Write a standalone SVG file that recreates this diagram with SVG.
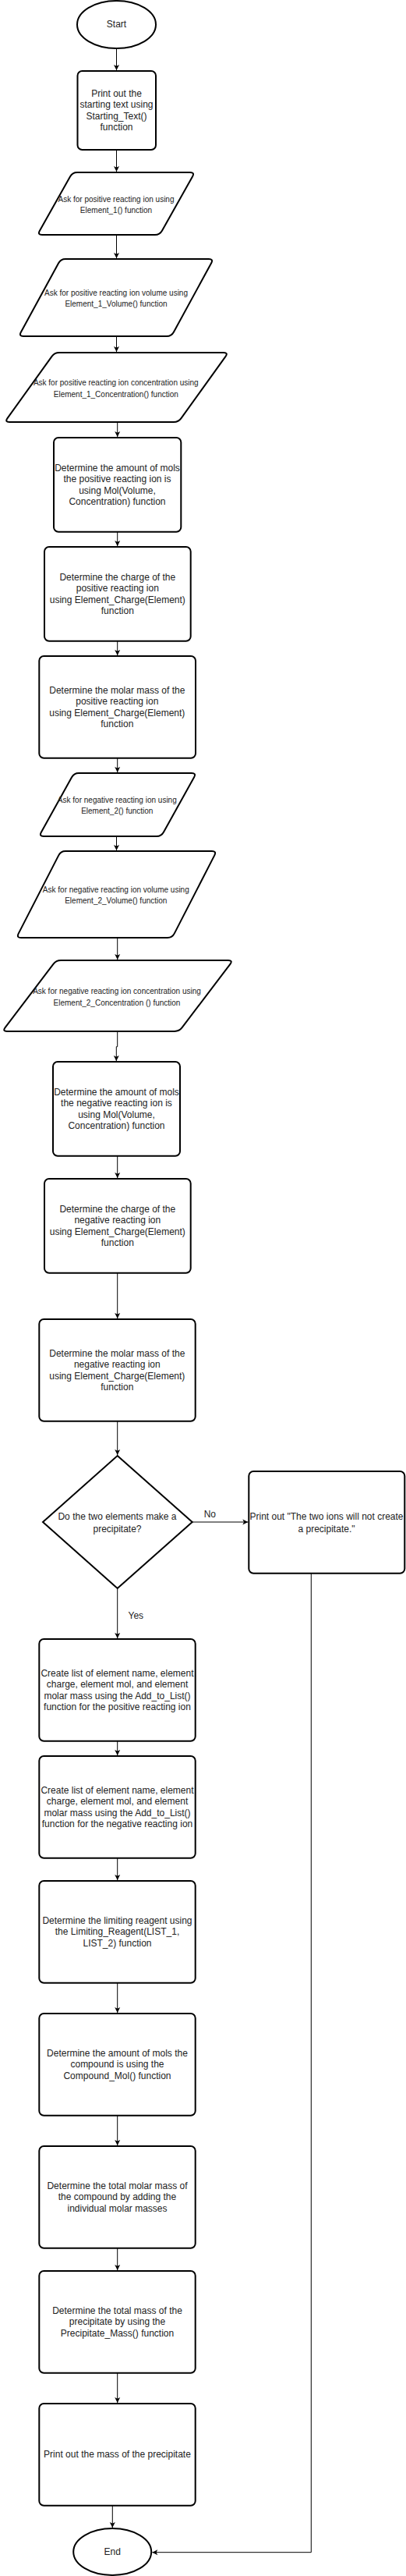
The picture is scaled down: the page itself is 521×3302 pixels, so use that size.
<svg xmlns="http://www.w3.org/2000/svg" width="521" height="3302" viewBox="0 0 521 3302">
<style>
.s{fill:#fff;stroke:#000;stroke-width:2}
.c{fill:none;stroke:#000;stroke-width:1}
.t{font-family:"Liberation Sans",Arial,Helvetica,sans-serif;font-size:12px;fill:#222;text-anchor:middle}
.t10{font-family:"Liberation Sans",Arial,Helvetica,sans-serif;font-size:10px;fill:#222;text-anchor:middle}
</style>
<defs>
<marker id="ah" markerUnits="userSpaceOnUse" markerWidth="10" markerHeight="10" viewBox="-8 -5 10 10" refX="0" refY="0" orient="auto">
<path d="M0,0 L-7,-3.5 L-5.2,0 L-7,3.5 Z" fill="#000"/>
</marker>
</defs>
<rect width="521" height="3302" fill="#fff"/>
<g id="connectors">
<path class="c" d="M149.5,62 V90" marker-end="url(#ah)"/>
<path class="c" d="M149.5,192 V220" marker-end="url(#ah)"/>
<path class="c" d="M149.5,301 V331" marker-end="url(#ah)"/>
<path class="c" d="M149.5,431 V451" marker-end="url(#ah)"/>
<path class="c" d="M150.7,541 V560" marker-end="url(#ah)"/>
<path class="c" d="M150.7,682 V700" marker-end="url(#ah)"/>
<path class="c" d="M150.7,822 V840" marker-end="url(#ah)"/>
<path class="c" d="M150.7,972 V990" marker-end="url(#ah)"/>
<path class="c" d="M149.5,1072 V1090" marker-end="url(#ah)"/>
<path class="c" d="M150.7,1202 V1230" marker-end="url(#ah)"/>
<path class="c" d="M150.7,1322 V1341.7 H149.3 V1360" marker-end="url(#ah)"/>
<path class="c" d="M150.7,1482 V1510" marker-end="url(#ah)"/>
<path class="c" d="M150.7,1632 V1690" marker-end="url(#ah)"/>
<path class="c" d="M150.7,1822 V1865" marker-end="url(#ah)"/>
<path class="c" d="M246.7,1951 H318.3" marker-end="url(#ah)"/>
<text class="t" x="269.3" y="1945.3">No</text>
<path class="c" d="M150.7,2036 V2100" marker-end="url(#ah)"/>
<text class="t" x="174.3" y="2075">Yes</text>
<path class="c" d="M150.7,2232 V2250" marker-end="url(#ah)"/>
<path class="c" d="M150.7,2382 V2410" marker-end="url(#ah)"/>
<path class="c" d="M150.7,2542 V2580" marker-end="url(#ah)"/>
<path class="c" d="M150.7,2712 V2750" marker-end="url(#ah)"/>
<path class="c" d="M150.7,2882 V2910" marker-end="url(#ah)"/>
<path class="c" d="M150.7,3042 V3080" marker-end="url(#ah)"/>
<path class="c" d="M144.3,3212 V3240" marker-end="url(#ah)"/>
<path class="c" d="M399.3,2016.7 V3271.7 H195.3" marker-end="url(#ah)"/>
</g>
<g id="start">
<ellipse class="s" cx="149.5" cy="31.5" rx="50.5" ry="30.5"/>
<text class="t" x="149.5" y="35">Start</text>
</g>
<g id="print-start">
<rect class="s" x="99.5" y="91" width="100.5" height="101" rx="6"/>
<text class="t"><tspan x="149.5" y="123.6">Print out the</tspan><tspan x="149.5" y="138">starting text using</tspan><tspan x="149.5" y="153">Starting_Text()</tspan><tspan x="149.5" y="167">function</tspan></text>
</g>
<g id="ask-element1">
<path class="s" d="M99,221 H244 Q250,221 247.06,226.23 L207.94,295.77 Q205,301 199,301 H54 Q48,301 50.94,295.77 L90.06,226.23 Q93,221 99,221 Z"/>
<text class="t10"><tspan x="149" y="258.6">Ask for positive reacting ion using</tspan><tspan x="149" y="273">Element_1() function</tspan></text>
</g>
<g id="ask-volume1">
<path class="s" d="M84,332 H268 Q274,332 271.13,337.27 L222.87,425.73 Q220,431 214,431 H30 Q24,431 26.87,425.73 L75.13,337.27 Q78,332 84,332 Z"/>
<text class="t10"><tspan x="149" y="378.6">Ask for positive reacting ion volume using</tspan><tspan x="149" y="393.3">Element_1_Volume() function</tspan></text>
</g>
<g id="ask-conc1">
<path class="s" d="M76,452 H287 Q293,452 289.5,456.87 L232.5,536.13 Q229,541 223,541 H12 Q6,541 9.5,536.13 L66.5,456.87 Q70,452 76,452 Z"/>
<text class="t10"><tspan x="148.8" y="493.6">Ask for positive reacting ion concentration using</tspan><tspan x="148.8" y="508.6">Element_1_Concentration() function</tspan></text>
</g>
<g id="mol1">
<rect class="s" x="69" y="561" width="163.3" height="120.7" rx="6"/>
<text class="t"><tspan x="150.5" y="603.6">Determine the amount of mols</tspan><tspan x="150.5" y="618">the positive reacting ion is</tspan><tspan x="150.5" y="633">using Mol(Volume,</tspan><tspan x="150.5" y="647">Concentration) function</tspan></text>
</g>
<g id="charge1">
<rect class="s" x="57" y="701" width="187.7" height="120.7" rx="6"/>
<text class="t"><tspan x="150.8" y="743.6">Determine the charge of the</tspan><tspan x="150.8" y="758">positive reacting ion</tspan><tspan x="150.8" y="773">using Element_Charge(Element)</tspan><tspan x="150.8" y="787">function</tspan></text>
</g>
<g id="molar1">
<rect class="s" x="50.3" y="841" width="200.7" height="130.7" rx="6"/>
<text class="t"><tspan x="150.3" y="889">Determine the molar mass of the</tspan><tspan x="150.3" y="903">positive reacting ion</tspan><tspan x="150.3" y="917.6">using Element_Charge(Element)</tspan><tspan x="150.3" y="931.6">function</tspan></text>
</g>
<g id="ask-element2">
<path class="s" d="M101,991 H246 Q252,991 249.09,996.25 L209.91,1066.75 Q207,1072 201,1072 H56 Q50,1072 52.91,1066.75 L92.09,996.25 Q95,991 101,991 Z"/>
<text class="t10"><tspan x="150.3" y="1028.6">Ask for negative reacting ion using</tspan><tspan x="150.3" y="1043.3">Element_2() function</tspan></text>
</g>
<g id="ask-volume2">
<path class="s" d="M84,1091 H272 Q278,1091 275.26,1096.34 L223.74,1196.66 Q221,1202 215,1202 H27 Q21,1202 23.74,1196.66 L75.26,1096.34 Q78,1091 84,1091 Z"/>
<text class="t10"><tspan x="148.8" y="1143.6">Ask for negative reacting ion volume using</tspan><tspan x="148.8" y="1158.3">Element_2_Volume() function</tspan></text>
</g>
<g id="ask-conc2">
<path class="s" d="M78,1231 H293 Q299,1231 295.37,1235.78 L233.63,1317.22 Q230,1322 224,1322 H9 Q3,1322 6.63,1317.22 L68.37,1235.78 Q72,1231 78,1231 Z"/>
<text class="t10"><tspan x="150" y="1273.6">Ask for negative reacting ion concentration using</tspan><tspan x="150" y="1288.6">Element_2_Concentration () function</tspan></text>
</g>
<g id="mol2">
<rect class="s" x="68" y="1361" width="163" height="120.7" rx="6"/>
<text class="t"><tspan x="149.5" y="1403.6">Determine the amount of mols</tspan><tspan x="149.5" y="1418">the negative reacting ion is</tspan><tspan x="149.5" y="1433">using Mol(Volume,</tspan><tspan x="149.5" y="1447">Concentration) function</tspan></text>
</g>
<g id="charge2">
<rect class="s" x="57" y="1511" width="187.7" height="120.7" rx="6"/>
<text class="t"><tspan x="150.8" y="1553.6">Determine the charge of the</tspan><tspan x="150.8" y="1568">negative reacting ion</tspan><tspan x="150.8" y="1583">using Element_Charge(Element)</tspan><tspan x="150.8" y="1597">function</tspan></text>
</g>
<g id="molar2">
<rect class="s" x="50.3" y="1691" width="200.4" height="130.7" rx="6"/>
<text class="t"><tspan x="150.3" y="1739">Determine the molar mass of the</tspan><tspan x="150.3" y="1753">negative reacting ion</tspan><tspan x="150.3" y="1767.6">using Element_Charge(Element)</tspan><tspan x="150.3" y="1782">function</tspan></text>
</g>
<g id="decision">
<path class="s" d="M150.7,1866 L246.7,1951 L150.7,2036 L55,1951 Z"/>
<text class="t"><tspan x="150.5" y="1947.6">Do the two elements make a</tspan><tspan x="150.5" y="1963.6">precipitate?</tspan></text>
</g>
<g id="no-precipitate">
<rect class="s" x="319.3" y="1886" width="200" height="130.7" rx="6"/>
<text class="t"><tspan x="419" y="1947.6">Print out "The two ions will not create</tspan><tspan x="419" y="1963.6">a precipitate."</tspan></text>
</g>
<g id="list1">
<rect class="s" x="50.3" y="2101" width="200.4" height="130.7" rx="6"/>
<text class="t"><tspan x="150.5" y="2149.3">Create list of element name, element</tspan><tspan x="150.5" y="2163.3">charge, element mol, and element</tspan><tspan x="150.5" y="2178">molar mass using the Add_to_List()</tspan><tspan x="150.5" y="2192">function for the positive reacting ion</tspan></text>
</g>
<g id="list2">
<rect class="s" x="50.3" y="2251" width="200.4" height="130.7" rx="6"/>
<text class="t"><tspan x="150.5" y="2299.3">Create list of element name, element</tspan><tspan x="150.5" y="2313.3">charge, element mol, and element</tspan><tspan x="150.5" y="2328">molar mass using the Add_to_List()</tspan><tspan x="150.5" y="2342">function for the negative reacting ion</tspan></text>
</g>
<g id="limiting">
<rect class="s" x="50.3" y="2411" width="200.4" height="130.7" rx="6"/>
<text class="t"><tspan x="150.5" y="2466">Determine the limiting reagent using</tspan><tspan x="150.5" y="2480">the Limiting_Reagent(LIST_1,</tspan><tspan x="150.5" y="2495">LIST_2) function</tspan></text>
</g>
<g id="compound-mol">
<rect class="s" x="50.3" y="2581" width="200.4" height="130.7" rx="6"/>
<text class="t"><tspan x="150.5" y="2636">Determine the amount of mols the</tspan><tspan x="150.5" y="2650">compound is using the</tspan><tspan x="150.5" y="2665">Compound_Mol() function</tspan></text>
</g>
<g id="total-molar">
<rect class="s" x="50.3" y="2751" width="200.4" height="130.7" rx="6"/>
<text class="t"><tspan x="150.5" y="2806">Determine the total molar mass of</tspan><tspan x="150.5" y="2820">the compound by adding the</tspan><tspan x="150.5" y="2835">individual molar masses</tspan></text>
</g>
<g id="total-mass">
<rect class="s" x="50.3" y="2911" width="200.4" height="130.7" rx="6"/>
<text class="t"><tspan x="150.5" y="2966">Determine the total mass of the</tspan><tspan x="150.5" y="2980">precipitate by using the</tspan><tspan x="150.5" y="2995">Precipitate_Mass() function</tspan></text>
</g>
<g id="print-mass">
<rect class="s" x="50.3" y="3081" width="200.4" height="130.7" rx="6"/>
<text class="t" x="150.5" y="3150">Print out the mass of the precipitate</text>
</g>
<g id="end">
<ellipse class="s" cx="144.2" cy="3271" rx="50" ry="30"/>
<text class="t" x="144.2" y="3275">End</text>
</g>
</svg>
